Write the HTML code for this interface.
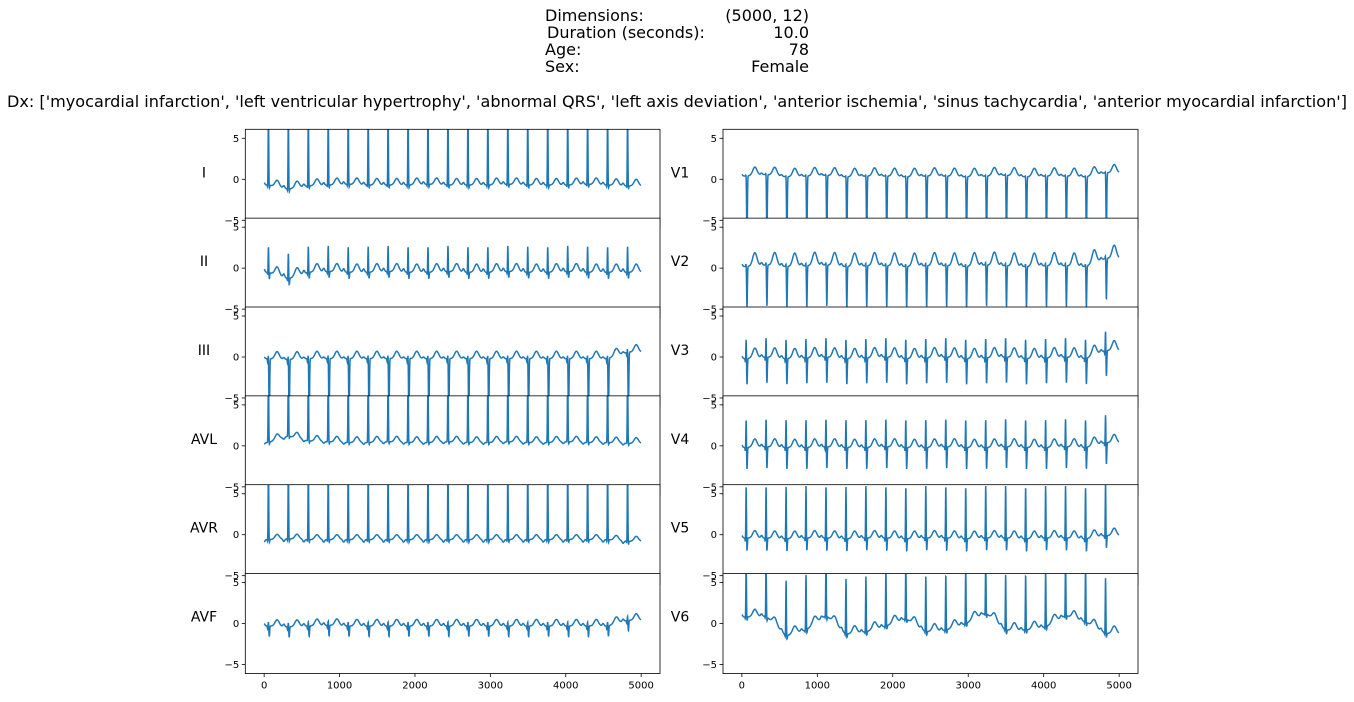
<!DOCTYPE html>
<html><head><meta charset="utf-8"><style>
body{margin:0;background:#fff;}
svg text{font-family:"DejaVu Sans","Liberation Sans",sans-serif;fill:#000;}
</style></head><body>
<svg id="fig" width="1354" height="697" viewBox="0 0 1354 697">
<g font-size="16">
<text x="545" y="21">Dimensions:</text>
<text x="809" y="21" text-anchor="end">(5000, 12)</text>
<text x="547" y="38">Duration (seconds):</text>
<text x="809" y="38" text-anchor="end">10.0</text>
<text x="545" y="55">Age:</text>
<text x="809" y="55" text-anchor="end">78</text>
<text x="545" y="72">Sex:</text>
<text x="809" y="72" text-anchor="end">Female</text>
<text x="677" y="107" text-anchor="middle" textLength="1340" lengthAdjust="spacingAndGlyphs">Dx: ['myocardial infarction', 'left ventricular hypertrophy', 'abnormal QRS', 'left axis deviation', 'anterior ischemia', 'sinus tachycardia', 'anterior myocardial infarction']</text>
</g>
<g id="plots"></g>
</svg>
<script>
// ---- data ----
const leads = ['I','II','III','AVL','AVR','AVF','V1','V2','V3','V4','V5','V6'];
const beatTimes = [57,321,586,850,1115,1380,1644,1909,2173,2438,2703,2967,3232,3496,3761,4026,4290,4555,4820];
// per-lead wave amplitudes: P, Q, R, S, T
const pAmp = [0.3,0.4,0.2,-0.2,-0.3,0.3,0.2,0.3,0.3,0.3,0.3,0.3];
const qAmp = [-0.3,-0.3,-0.5,0,-0.3,-0.4,0,0,-0.5,-0.5,-0.5,-0.3];
const rAmp = [9,3.2,0.8,9,9,0.6,0.3,0.5,2.6,3.6,6.5,6.8];
const sAmp = [-0.4,-0.8,-8,-0.3,-0.4,-1.3,-8,-5,-3.2,-2.7,-1.6,-0.5];
const tAmp = [0.8,1.0,0.9,0.7,0.6,0.8,1.0,1.6,1.2,1.0,0.9,0.9];
const baseline = [
 [-0.7,-1.2,-0.8,-0.7,-0.6,-0.7,-0.7,-0.7,-0.6,-0.7,-0.7,-0.7,-0.6,-0.7,-0.7,-0.7,-0.6,-0.7,-0.8],
 [-0.5,-1.3,-0.5,-0.4,-0.5,-0.5,-0.4,-0.5,-0.5,-0.4,-0.5,-0.5,-0.4,-0.5,-0.5,-0.4,-0.5,-0.5,-0.5],
 [-0.2,-0.3,-0.2,-0.2,-0.2,-0.2,-0.2,-0.2,-0.2,-0.2,-0.2,-0.2,-0.2,-0.2,-0.2,-0.2,-0.2,-0.2,0.6],
 [0.4,1.2,0.6,0.5,0.4,0.4,0.5,0.4,0.4,0.5,0.4,0.4,0.5,0.4,0.4,0.5,0.4,0.4,0.3],
 [-0.6,-0.5,-0.6,-0.6,-0.6,-0.6,-0.6,-0.6,-0.6,-0.6,-0.6,-0.6,-0.6,-0.6,-0.6,-0.6,-0.6,-0.6,-0.8],
 [-0.3,-0.4,-0.3,-0.2,-0.3,-0.3,-0.3,-0.3,-0.3,-0.3,-0.3,-0.3,-0.3,-0.3,-0.3,-0.3,-0.3,-0.3,0.4],
 [0.4,0.6,0.3,0.4,0.5,0.3,0.4,0.4,0.3,0.4,0.4,0.3,0.4,0.5,0.3,0.4,0.4,0.3,0.8],
 [0.2,0.4,0.2,0.3,0.4,0.2,0.3,0.3,0.2,0.3,0.3,0.2,0.4,0.3,0.2,0.3,0.3,0.2,1.2],
 [-0.2,0,-0.2,-0.1,0,-0.2,-0.1,0,-0.2,-0.1,0,-0.2,-0.1,0,-0.2,-0.1,0,-0.2,0.8],
 [-0.2,-0.1,-0.2,-0.2,-0.1,-0.2,-0.2,-0.1,-0.2,-0.2,-0.1,-0.2,-0.2,-0.1,-0.2,-0.2,-0.1,-0.2,0.4],
 [-0.4,-0.4,-0.5,-0.4,-0.4,-0.5,-0.4,-0.4,-0.5,-0.4,-0.4,-0.5,-0.4,-0.4,-0.5,-0.4,-0.4,-0.5,-0.1],
 [0.8,0.9,-1.5,-0.8,1.0,-1.3,-1.0,-0.3,0.6,-1.0,-0.8,0,1.3,-0.8,-0.8,-0.4,1.0,0.2,-1.2]
];
const yTicks = [-5,0,5];
const xTicks = [0,1000,2000,3000,4000,5000];
// ---- layout ----
const cols = [{l:245.3,r:660},{l:723,r:1138}];
const top0 = 129.3, rowStep = 88.85, axH = 100, yMax = 6.1, yMin = -6.1, xMin = -250, xMax = 5250;
const NS = 'http://www.w3.org/2000/svg';
const plots = document.getElementById('plots');
function mk(tag, attrs, parent){const e=document.createElementNS(NS,tag);for(const k in attrs)e.setAttribute(k,attrs[k]);parent.appendChild(e);return e;}
function g(x,s){return Math.exp(-0.5*(x/s)*(x/s));}
function signal(li,t){
  let k=0; while(k<beatTimes.length-1 && beatTimes[k+1]<=t) k++;
  let b;
  if(t<=beatTimes[0]) b=baseline[li][0];
  else if(k>=beatTimes.length-1) b=baseline[li][beatTimes.length-1];
  else { const f=(t-beatTimes[k])/(beatTimes[k+1]-beatTimes[k]); b=baseline[li][k]*(1-f)+baseline[li][k+1]*f; }
  let v=b;
  for(const bt of beatTimes){
    const d=t-bt; if(d<-120||d>220) continue;
    v+=pAmp[li]*g(d+60,12)+qAmp[li]*g(d+10,4)+rAmp[li]*g(d,4)+sAmp[li]*g(d-11,5)+tAmp[li]*g(d-115,28);
  }
  return v;
}
leads.forEach((name,li)=>{
  const col=cols[li<6?0:1], row=li%6;
  const top=top0+row*rowStep, bot=top+axH;
  const sx=v=>col.l+(v-xMin)/(xMax-xMin)*(col.r-col.l);
  const sy=v=>top+(yMax-v)/(yMax-yMin)*axH;
  const ax=mk('g',{},plots);
  
  
  mk('rect',{x:col.l,y:top,width:col.r-col.l,height:axH,fill:'#fff'},ax);
  const cid='clip'+li;
  const cp=mk('clipPath',{id:cid},ax);
  mk('rect',{x:col.l,y:top,width:col.r-col.l,height:axH},cp);
  let d='';
  for(let t=0;t<5000;t+=2){ d+=(t?'L':'M')+sx(t).toFixed(2)+','+sy(signal(li,t)).toFixed(2); }
  const p=mk('path',{d:d,fill:'none',stroke:'#1f77b4','stroke-width':1.5,'clip-path':'url(#'+cid+')'},ax);
  
  
  mk('rect',{x:col.l,y:top,width:col.r-col.l,height:axH,fill:'none',stroke:'#000','stroke-width':0.8},ax);
  yTicks.forEach(v=>{
    mk('line',{x1:col.l-3.5,x2:col.l,y1:sy(v),y2:sy(v),stroke:'#000','stroke-width':0.8},ax);
    const tx=mk('text',{x:col.l-6,y:sy(v)+3.5,'text-anchor':'end','font-size':10},ax);
    tx.textContent=v<0?'\u2212'+(-v):String(v);
    
    
  });
  const lb=mk('text',{x:li<6?204:680,y:sy(0)-2,'text-anchor':'middle','font-size':14},ax);
  lb.textContent=name;
  
  
  if(row===5){
    xTicks.forEach(v=>{
      mk('line',{x1:sx(v),x2:sx(v),y1:bot,y2:bot+3.5,stroke:'#000','stroke-width':0.8},ax);
      const tx=mk('text',{x:sx(v),y:bot+15,'text-anchor':'middle','font-size':10},ax);
      tx.textContent=String(v);
      
      
    });
  }
});
</script>
</body></html>
